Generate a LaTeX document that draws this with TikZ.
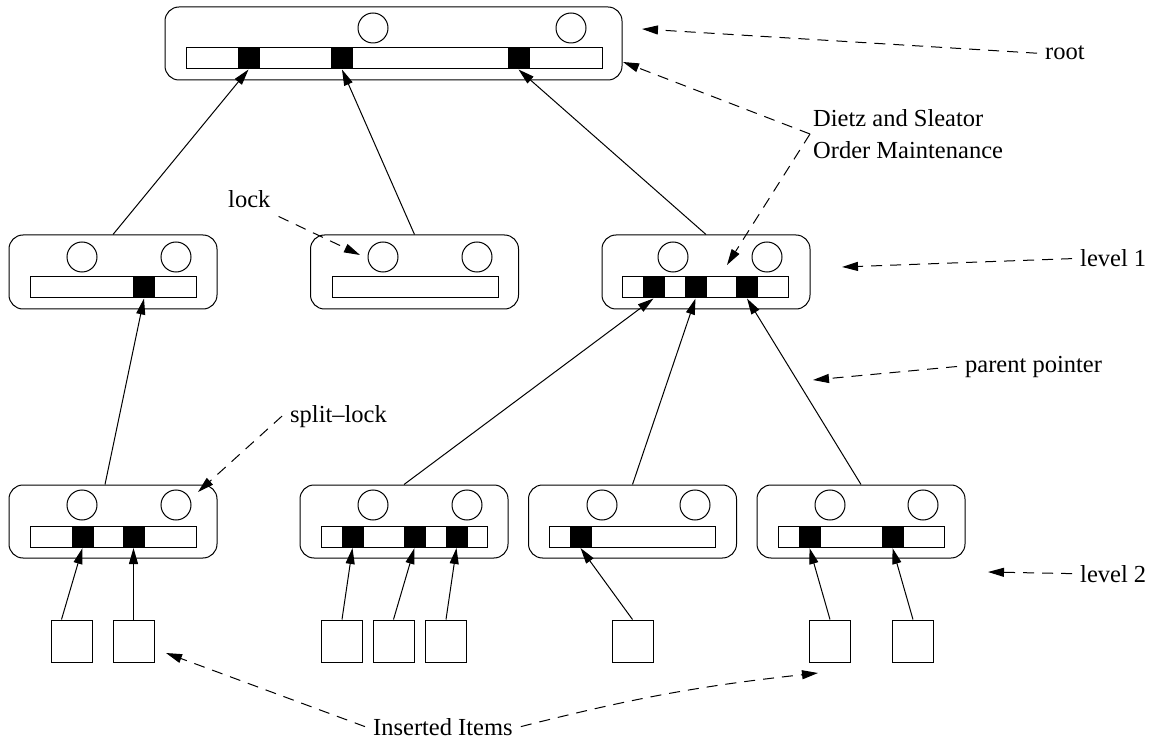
\documentclass[tikz,border=0pt]{standalone}
\usepackage{fontspec}
\setmainfont{Liberation Serif}
\usetikzlibrary{arrows.meta,positioning,calc}
\tikzset{
	treenode/.style={
		rectangle, rounded corners=14pt, draw, line width=1pt,
		minimum width=208pt, minimum height=74pt, inner sep=0pt
	},
	%
	slotbar/.style={
		rectangle, draw, line width=1pt,
		minimum width=166pt, minimum height=21pt, inner sep=0pt
	},
	%
	slot/.style={
		rectangle, draw, fill=black, line width=1pt,
		minimum width=21pt, minimum height=21pt, inner sep=0pt
	},
	%
	lockcirc/.style={
		circle, draw, line width=1pt, minimum size=30pt, inner sep=0pt
	},
	%
	item/.style={
		rectangle, draw, line width=1pt,
		minimum width=41pt, minimum height=42pt, inner sep=0pt
	},
	%
	lbl/.style={
		inner sep=8pt, font=\fontsize{24.5}{32}\selectfont
	},
	%
	ptr/.style={
		line width=1pt, -{Triangle[length=16pt,width=9pt]}
	},
	%
	note/.style={
		line width=1pt, dash pattern=on 11pt off 8pt,
		-{Triangle[length=16pt,width=9pt]}
	}
}
\begin{document}
\begin{tikzpicture}[x=1pt,y=-1pt]
    \useasboundingbox (0,0) rectangle (1163,738);
    % root
    \node(R)[treenode, minimum width=457pt, minimum height=73pt] at (393.5,43.5){};
    \node(Rbar)[slotbar, minimum width=416pt] at (394,58.5){};
    \node(Rs1)[slot] at (248.5,58.5){};
    \node(Rs2)[slot] at (342,58.5){};
    \node(Rs3)[slot] at (518.5,58.5){};
    \node(Rc1)[lockcirc] at (373,28){};
    \node(Rc2)[lockcirc] at (571,28){};
    % level 1
    \node(L1a)[treenode] at (113,272){};
    \node(L1abar)[slotbar] at (113,287.5){};
    \node(L1as1)[slot] at (144,287.5){};
    \node(L1ac1)[lockcirc] at (82,257){};
    \node(L1ac2)[lockcirc] at (176,257){};
    \node(L1b)[treenode] at (414.5,272){};
    \node(L1bbar)[slotbar] at (415,287.5){};
    \node(L1bc1)[lockcirc] at (383,257){};
    \node(L1bc2)[lockcirc] at (477,257){};
    \node(L1c)[treenode] at (706,272){};
    \node(L1cbar)[slotbar] at (705.5,287.5){};
    \node(L1cs1)[slot] at (653.5,287.5){};
    \node(L1cs2)[slot] at (695.5,287.5){};
    \node(L1cs3)[slot] at (747,287.5){};
    \node(L1cc1)[lockcirc] at (673,257){};
    \node(L1cc2)[lockcirc] at (767,257){};
    % level 2
    \node(L2a)[treenode, minimum height=73pt] at (113,521.5){};
    \node(L2abar)[slotbar] at (113,537){};
    \node(L2as1)[slot] at (82.5,537){};
    \node(L2as2)[slot] at (133.5,537){};
    \node(L2ac1)[lockcirc] at (82,505){};
    \node(L2ac2)[lockcirc] at (176,505){};
    \node(L2b)[treenode, minimum height=73pt] at (404,521.5){};
    \node(L2bbar)[slotbar] at (404,537){};
    \node(L2bs1)[slot] at (352.5,537){};
    \node(L2bs2)[slot] at (414.5,537){};
    \node(L2bs3)[slot] at (456.5,537){};
    \node(L2bc1)[lockcirc] at (373,505){};
    \node(L2bc2)[lockcirc] at (467,505){};
    \node(L2c)[treenode, minimum height=73pt] at (632.5,521.5){};
    \node(L2cbar)[slotbar] at (632.5,537){};
    \node(L2cs1)[slot] at (580.5,537){};
    \node(L2cc1)[lockcirc] at (602,505){};
    \node(L2cc2)[lockcirc] at (695,505){};
    \node(L2d)[treenode, minimum height=73pt] at (861,521.5){};
    \node(L2dbar)[slotbar] at (861,537){};
    \node(L2ds1)[slot] at (809.5,537){};
    \node(L2ds2)[slot] at (892.5,537){};
    \node(L2dc1)[lockcirc] at (830,505){};
    \node(L2dc2)[lockcirc] at (923,505){};
    % inserted items
    \node(Ia1)[item] at (71.5,641){};
    \node(Ia2)[item] at (133.5,641){};
    \node(Ib1)[item] at (342,641){};
    \node(Ib2)[item] at (393.5,641){};
    \node(Ib3)[item] at (446,641){};
    \node(Ic1)[item] at (632.5,641){};
    \node(Id1)[item] at (830,641){};
    \node(Id2)[item] at (913,641){};
    % parent pointers
    \draw[ptr] (L1a.north) -- (Rs1.south);
    \draw[ptr] (L1b.north) -- (Rs2.south);
    \draw[ptr] (L1c.north) -- (Rs3.south);
    \draw[ptr] ([xshift=-8pt]L2a.north) -- (L1as1.south);
    \draw[ptr] (L2b.north) -- (L1cs1.south);
    \draw[ptr] (L2c.north) -- (L1cs2.south);
    \draw[ptr] (L2d.north) -- (L1cs3.south);
    \draw[ptr] ([xshift=-10pt]Ia1.north) -- (L2as1.south);
    \draw[ptr] (Ia2.north) -- (L2as2.south);
    \draw[ptr] (Ib1.north) -- (L2bs1.south);
    \draw[ptr] (Ib2.north) -- (L2bs2.south);
    \draw[ptr] (Ib3.north) -- (L2bs3.south);
    \draw[ptr] (Ic1.north) -- (L2cs1.south);
    \draw[ptr] (Id1.north) -- (L2ds1.south);
    \draw[ptr] (Id2.north) -- (L2ds2.south);
    % labels
    \coordinate (rootTip) at (642,29);
    \coordinate (dietzTipA) at (623,62);
    \coordinate (dietzTipB) at (727,265);
    \coordinate (lev1Tip) at (842,267);
    \coordinate (lev2Tip) at (988,572);
    \coordinate (parTip) at (813,380);
    \coordinate (lockTip) at (360,255);
    \coordinate (splitTip) at (198,492);
    \coordinate (insTipA) at (166,653);
    \coordinate (insTipB) at (818,673);
    \node(rootlbl)[lbl, anchor=base west] at (1037,60){root};
    \node(dietz)[lbl, anchor=west, align=left] at (805,134){Dietz and Sleator\\Order Maintenance};
    \node(lev1)[lbl, anchor=base west] at (1072,267){level 1};
    \node(parlbl)[lbl, anchor=base west] at (957,372){parent pointer};
    \node(lev2)[lbl, anchor=base west] at (1072,582){level 2};
    \node(locklbl)[lbl, anchor=base west] at (220,208){lock};
    \node(splitlbl)[lbl, anchor=base west] at (282,422){split--lock};
    \node(inslbl)[lbl, anchor=base west] at (365,735){Inserted Items};
    \draw[note] (rootlbl.west) -- (rootTip);
    \draw[note] ([xshift=5pt]dietz.west) -- (dietzTipA);
    \draw[note] ([xshift=5pt]dietz.west) -- (dietzTipB);
    \draw[note] (lev1.west) -- (lev1Tip);
    \draw[note] (parlbl.west) -- (parTip);
    \draw[note] (lev2.west) -- (lev2Tip);
    \draw[note] (locklbl.south east) -- (lockTip);
    \draw[note] (splitlbl.west) -- (splitTip);
    \draw[note] (inslbl.west) -- (insTipA);
    \draw[note] (inslbl.east) to[bend left=4] (insTipB);
\end{tikzpicture}
\end{document}
